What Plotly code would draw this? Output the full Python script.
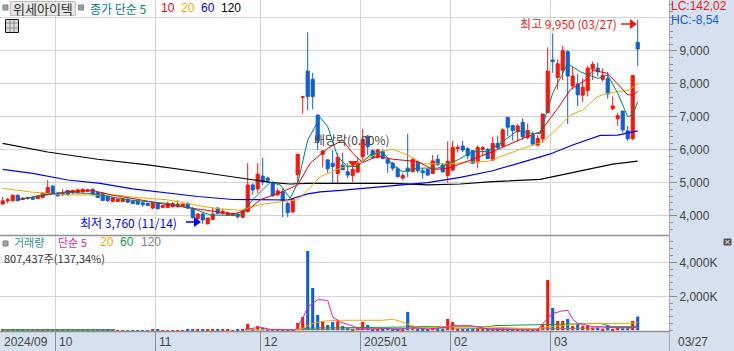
import plotly.graph_objects as go

W, H = 734, 351
PLOT_R = 669

o = [4360,4460,4460,4630,4540,4530,4550,4530,4560,4650,4910,4690,4640,4770,4710,4710,4730,4750,4810,4710,4690,4590,4440,4440,4440,4510,4450,4450,4400,4380,4240,4400,4260,4260,4280,4280,4300,4380,4220,3920,4060,3760,3900,4240,4080,4020,4020,4060,3960,
     4130,4940,4820,5210,5150,5010,4640,4730,4380,4120,5250,7600,8390,8140,7060,5870,5700,5600,5290,5540,5340,5230,5330,5800,6420,
     5980,5780,5950,5720,5600,5430,5150,5450,5340,5620,5370,5410,5290,5720,5550,5230,5390,6040,6120,6040,5980,5640,6020,6020,5700,6200,6120,6990,6740,6550,6840,6380,
     6450,6150,6340,7130,8730,8200,8420,8980,7940,8000,7660,7800,8450,8480,8140,8170,7250,6950,7180,6580,6340,9260]
h = [4570,4550,4650,4650,4570,4570,4590,4630,4710,5090,4910,4730,4810,4790,4790,4830,4830,4830,4830,4730,4710,4630,4570,4530,4550,4530,4470,4470,4420,4400,4420,4420,4340,4440,4420,4480,4380,4420,4280,4080,4100,3940,4260,4260,4220,4120,4100,4080,4180,
     5600,4990,5600,5760,5190,5050,4840,4840,4430,4530,5870,7630,9565,8340,7060,6000,5720,6000,5900,5920,5600,5650,5750,6640,6450,
     6020,6040,6020,5780,5640,5490,5290,6490,5740,5660,5450,5430,5850,5860,5600,6260,6280,6160,6280,6080,6000,6140,6120,6060,6400,6420,6660,6990,6760,6790,6960,6810,
     6560,6450,7090,9110,9535,8750,9150,9030,8525,8300,8160,8545,8680,8650,8480,8360,7620,7130,7180,6730,8260,9950]
l = [4360,4380,4440,4460,4490,4490,4490,4510,4540,4630,4670,4590,4610,4610,4670,4690,4710,4730,4630,4540,4450,4420,4420,4420,4420,4400,4360,4340,4280,4300,4200,4200,4240,4240,4260,4260,4280,4200,3920,3760,3760,3760,3880,4060,4040,4000,4000,3920,3960,
     4130,4640,4690,4930,4990,4590,4590,3960,3960,4100,4990,7100,7210,7230,6000,5470,5310,4990,4960,5400,5140,5030,5310,5700,5850,
     5740,5740,5720,5310,5370,5170,5090,5170,5320,5310,5130,5210,5270,5520,5310,5010,5350,5920,5940,5720,5580,5450,5820,5720,5660,6000,6080,6420,6280,6250,6300,6320,
     6120,6100,6220,7110,8340,7840,8120,6790,7840,7330,7450,7620,8120,8220,8070,7555,7210,6730,6525,6280,6300,8550]
c = [4460,4490,4630,4460,4500,4550,4510,4600,4690,4860,4690,4610,4690,4650,4770,4790,4810,4790,4650,4560,4470,4470,4550,4510,4530,4420,4380,4360,4340,4320,4400,4220,4320,4380,4380,4360,4360,4240,3960,4060,3880,3940,4060,4080,4140,4100,4080,3980,4160,
     4940,4790,5270,5030,5080,4610,4760,4460,4100,4510,5870,7610,7620,7620,6280,5970,5430,5500,5780,5400,5240,5410,5600,6320,6100,
     5780,6000,5740,5600,5450,5190,5230,5350,5720,5370,5310,5240,5670,5550,5340,5660,6080,6080,6000,5830,5600,6080,6070,5740,6200,6070,6610,6690,6590,6730,6400,6590,
     6180,6350,7090,8390,8680,8610,9010,8240,8240,7670,7900,8480,8600,8370,8260,7700,7330,7040,6610,6340,8260,9060]
volume = [20,20,25,20,20,15,15,20,25,85,
          30,25,20,20,20,20,20,20,25,25,25,20,20,15,15,15,15,15,15,15,20,20,15,15,15,15,15,20,25,25,25,20,
          45,25,20,20,15,20,30,
          370,40,255,155,35,35,35,30,30,35,430,785,4665,2490,900,510,315,490,530,255,160,60,175,490,315,60,60,60,140,60,60,60,1080,140,60,60,40,160,100,80,670,490,100,80,80,40,100,100,60,100,100,100,100,100,60,60,60,60,40,370,2960,1310,550,550,670,255,370,255,255,160,160,80,295,80,160,120,120,550,807]

ma120_i = [0,9,19,29,39,51,54,57.5,61,78,85,91.5,98,107.5,117.5,122,127]
ma120 = [6200,5940,5720,5550,5340,5090,5010,4970,4990,4990,4940,4970,5040,5110,5440,5570,5660]
ma60_i = [0,6,13,19.5,26,33,39,46,51,57,61,63.5,67,71.5,78,85,91.5,98,105,109.5,114,117.5,119.5,123,127]
ma60 = [5410,5290,5090,4990,4820,4690,4590,4500,4490,4485,4670,4730,4770,4830,4930,5010,5170,5370,5680,5880,6150,6350,6440,6450,6580]
ma20_i = [0,6,13,18,23,26,33,39,43,47.5,51,54,59,61,63.5,67.5,70,73.5,75.5,78,81,84,89,93,97,99.5,103,106,108,111,113.5,116,119,121.5,125,127]
ma20 = [4840,4720,4640,4630,4630,4570,4490,4320,4220,4170,4330,4400,4490,4790,5190,5450,5550,5780,5950,6020,5850,5580,5580,5630,5650,5800,6000,6150,6250,6660,7060,7210,7620,7740,7800,8000]
ma10_i = [3,8,13,18,22,27.5,33,39.5,46,49,51.5,56,59,61.5,65,68,70,72,74,75.5,78,83,86,89,91.5,94,98,101,104,107.5,111,113.5,117,118,121,125,126,127]
ma10 = [4500,4610,4740,4770,4630,4490,4340,4200,4060,4170,4490,4740,4940,5600,6050,6300,5900,5620,5750,5800,5720,5650,5410,5440,5590,5720,5950,6150,6350,6550,7260,7820,8170,8420,8320,7670,7670,7770]
ma5_i = [4,8,13,18,25,33,38,41.5,47.5,50,53.5,55.5,57.5,59,61,63.5,65,67,69,71,73.5,76,78,80,83,87,91,94,97,99.5,103,106,107.5,110,113,115.5,119,121,123,125,126,127]
ma5 = [4510,4640,4710,4680,4490,4380,4230,4030,4020,4495,5020,4940,4535,4990,6300,6990,6710,5800,5495,5500,5850,5950,5550,5340,5450,5450,5700,5950,5950,6200,6590,6500,6500,7720,8620,8370,8170,8270,7720,7010,7060,7460]

vma5_i = [48.5,51.5,53.5,55.5,58.5,60,61,63,65,66,67.5,70,71.5,77,79.5,81.5,85,89,90,93.5,97.5,105,107,108.6,110,111.6,113,114,115,118,120,122,126,127]
vma5 = [60,175,60,60,20,685,1370,1800,1765,785,490,255,60,100,20,195,60,195,275,275,60,30,20,590,980,1120,1175,650,410,215,215,155,135,255]
vma20_i = [48.5,58.5,60,61.5,64,67,76,78,80,81.5,83.5,89,97.5,100,106,107.5,109,114,116,125.5,127]
vma20 = [30,30,100,370,530,590,590,650,490,295,155,215,195,155,80,120,195,350,390,410,470]
vma60_i = [0,22.5,None,58.5,61.5,80,81.5,97.5,98.3,119.6,121.6,127]
vma60 = [15,15,None,40,130,190,215,215,275,410,215,215]
vma120_i = [0,22.5,None,60,81,89,97,107.5,127]
vma120 = [40,40,None,40,80,135,100,80,175]

month_ticks = [10.5, 30.5, 51.5, 71.5, 89.5, 109.5]
date_pos = [-0.5, 10.5, 30.5, 51.5, 71.5, 89.5, 109.5]
date_labels = ["2024/09", "10", "11", "12", "2025/01", "02", "03"]
price_ticks = [4000, 5000, 6000, 7000, 8000, 9000, 10000]
price_labels = ["4,000", "5,000", "6,000", "7,000", "8,000", "9,000", ""]
vol_ticks = [2000, 4000]
vol_labels = ["2,000K", "4,000K"]

RED, BLUE = "#EC1C0E", "#1160CC"
PANEL = "#D6E0EF"
GRID = "#D4D4D4"
AXC = "#8C8C8C"
KR = "Noto Sans CJK KR, Noto Sans, sans-serif"
NUM = "Liberation Sans, Arial, sans-serif"

def X(px):
    return px / PLOT_R

def Y(py):
    return 1 - py / H

fig = go.Figure()
idx = list(range(len(o)))
fig.add_trace(go.Candlestick(
    x=idx, open=o, high=h, low=l, close=c, xaxis="x", yaxis="y",
    increasing=dict(line=dict(color=RED, width=1), fillcolor=RED),
    decreasing=dict(line=dict(color=BLUE, width=1), fillcolor=BLUE),
    whiskerwidth=0, showlegend=False, hoverinfo="skip"))

for xs, ys, col, w in [(ma120_i, ma120, "#000000", 1.2), (ma60_i, ma60, "#0000F0", 1.2),
                       (ma20_i, ma20, "#F0A800", 1), (ma10_i, ma10, "#F00000", 1),
                       (ma5_i, ma5, "#008078", 1)]:
    fig.add_trace(go.Scatter(x=xs, y=ys, mode="lines", line=dict(color=col, width=w),
                             xaxis="x", yaxis="y", showlegend=False, hoverinfo="skip"))

bar_colors = [RED if cv >= ov else BLUE for ov, cv in zip(o, c)]
fig.add_trace(go.Bar(x=idx, y=volume, marker=dict(color=bar_colors, line=dict(width=0)), width=0.62,
                     xaxis="x2", yaxis="y2", showlegend=False, hoverinfo="skip"))
for xs, ys, col, w in [(vma120_i, vma120, "#808080", 1), (vma60_i, vma60, "#119944", 1),
                       (vma20_i, vma20, "#F0A800", 1), (vma5_i, vma5, "#E020B0", 1)]:
    fig.add_trace(go.Scatter(x=xs, y=ys, mode="lines", line=dict(color=col, width=w),
                             xaxis="x2", yaxis="y2", showlegend=False, hoverinfo="skip",
                             connectgaps=False))

xr = [-0.54, 133.26]
fig.update_layout(
    width=W, height=H, margin=dict(l=0, r=W - PLOT_R, t=0, b=0, autoexpand=False),
    paper_bgcolor=PANEL, plot_bgcolor="#FFFFFF", boxgap=0.1, bargap=0.3,
    xaxis=dict(domain=[0, 1], range=xr, tickmode="array", tickvals=month_ticks, showticklabels=False,
               showgrid=True, gridcolor=GRID, gridwidth=1, zeroline=False, ticks="",
               rangeslider=dict(visible=False), anchor="y"),
    yaxis=dict(domain=[Y(235), 1], range=[3424, 10545], side="right", anchor="x",
               tickmode="array", tickvals=price_ticks, ticktext=price_labels,
               showgrid=True, gridcolor=GRID, gridwidth=1, zeroline=False,
               ticks="outside", ticklen=7, tickcolor=AXC, tickwidth=1,
               minor=dict(dtick=200, ticks="outside", ticklen=3, tickcolor=AXC, showgrid=False),
               tickfont=dict(family=NUM, size=12, color="#444444"), showline=False),
    xaxis2=dict(domain=[0, 1], range=xr, tickmode="array", tickvals=month_ticks, showticklabels=False,
                showgrid=True, gridcolor=GRID, gridwidth=1, zeroline=False,
                ticks="outside", ticklen=20, tickcolor=AXC, tickwidth=1, anchor="y2"),
    yaxis2=dict(domain=[Y(331), Y(236)], range=[-41, 5547], side="right", anchor="x2",
                tickmode="array", tickvals=vol_ticks, ticktext=vol_labels,
                showgrid=True, gridcolor=GRID, gridwidth=1, zeroline=False,
                ticks="outside", ticklen=7, tickcolor=AXC, tickwidth=1,
                minor=dict(dtick=400, ticks="outside", ticklen=3, tickcolor=AXC, showgrid=False),
                tickfont=dict(family=NUM, size=12, color="#444444"), showline=False),
)

def line(x0, y0, x1, y1, col=AXC, w=1):
    return dict(type="line", xref="paper", yref="paper", x0=X(x0), y0=Y(y0), x1=X(x1), y1=Y(y1),
                line=dict(color=col, width=w), layer="above")

def rect(x0, y0, x1, y1, fill, col, w=1):
    return dict(type="rect", xref="paper", yref="paper", x0=X(x0), y0=Y(y0), x1=X(x1), y1=Y(y1),
                fillcolor=fill, line=dict(color=col, width=w), layer="above")

shapes = [
    dict(type="rect", xref="paper", yref="paper", x0=0, x1=1, y0=Y(236), y1=Y(235),
         fillcolor="#FFFFFF", line=dict(width=0), layer="below"),
    line(0, 235.5, 669, 235.5, "#909090", 1.5),
    line(0, 331.5, 669, 331.5, "#909090", 1.5),
    line(669.5, 0, 669.5, 351, "#A8A8A8", 1),
    rect(3, 5, 8, 10, "#A0A0A0", "#808080"),
    rect(10.5, 1.5, 75.5, 15.5, "#E8E8E8", "#BDBDBD"),
    rect(78.5, 5, 83.5, 10, "#A0A0A0", "#808080"),
    rect(5.5, 19.5, 18.5, 32.5, "#DDDDDD", "#111111"),
    line(6, 23, 18, 23, "#888888"), line(6, 28, 18, 28, "#888888"),
    line(10, 20, 10, 32, "#888888"), line(14, 20, 14, 32, "#888888"),
    rect(3, 241, 8, 246, "#A0A0A0", "#808080"),
    rect(724, 239, 731, 245, "#555555", "#555555"),
    line(725.5, 240, 729.5, 244, "#FFFFFF"), line(725.5, 244, 729.5, 240, "#FFFFFF"),
    # dividend marker
    dict(type="path", xref="paper", yref="paper", layer="above", fillcolor=RED, line=dict(width=0),
         path=f"M {X(348)} {Y(161)} L {X(358)} {Y(161)} L {X(353)} {Y(167)} Z"),
    # high / low arrows
    line(621, 24, 631, 24, RED, 1.5),
    dict(type="path", xref="paper", yref="paper", layer="above", fillcolor=RED, line=dict(width=0),
         path=f"M {X(630)} {Y(19)} L {X(637)} {Y(24)} L {X(630)} {Y(29)} Z"),
    line(186, 222, 195, 222, "#0000F0", 1.5),
    dict(type="path", xref="paper", yref="paper", layer="above", fillcolor="#0000F0", line=dict(width=0),
         path=f"M {X(194)} {Y(217)} L {X(201)} {Y(222)} L {X(194)} {Y(227)} Z"),
]
fig.update_layout(shapes=shapes)

def txt(px, py, s, col, size=12, fam=KR, anchor="left"):
    fig.add_annotation(x=X(px), y=Y(py), xref="paper", yref="paper", text=s, showarrow=False,
                       xanchor=anchor, yanchor="middle", align="left",
                       font=dict(family=fam, size=size, color=col), borderpad=0, borderwidth=0)

txt(13, 8.5, "위세아이텍", "#333333", 13)
txt(90, 8.5, "종가 단순 5", "#008078", 12)
txt(161, 8.5, "10", "#F00000", 12, NUM)
txt(181, 8.5, "20", "#F0A800", 12, NUM)
txt(201, 8.5, "60", "#0000F0", 12, NUM)
txt(221, 8.5, "120", "#000000", 12, NUM)
txt(80, 222, "최저 3,760 (11/14)", "#0000F0", 12)
txt(617, 24, "최고 9,950 (03/27)", RED, 12, KR, "right")
txt(314, 139, "배당락(0.00%)", "#444444", 12)
txt(671, 6.5, "LC:142,02", RED, 12, NUM)
txt(671, 20, "HC:-8,54", BLUE, 12, NUM)
txt(14, 242, "거래량", "#2F8F8F", 11)
txt(58, 242, "단순 5", "#E020B0", 11)
txt(100, 242, "20", "#F0A800", 12, NUM)
txt(120, 242, "60", "#119944", 12, NUM)
txt(141, 242, "120", "#808080", 12, NUM)
txt(4, 258, "807,437주(137,34%)", "#333333", 11)
txt(678, 342, "03/27", "#444444", 12, NUM)
for p, s in zip(date_pos, date_labels):
    fig.add_annotation(x=p, y=Y(342), xref="x2", yref="paper", text=s, showarrow=False, xanchor="left",
                       xshift=2, yanchor="middle", font=dict(family=NUM, size=12, color="#444444"))

fig.write_html("out.html", config=dict(displayModeBar=False),
               post_script="document.body.style.margin='0';document.documentElement.style.overflow='hidden';")
